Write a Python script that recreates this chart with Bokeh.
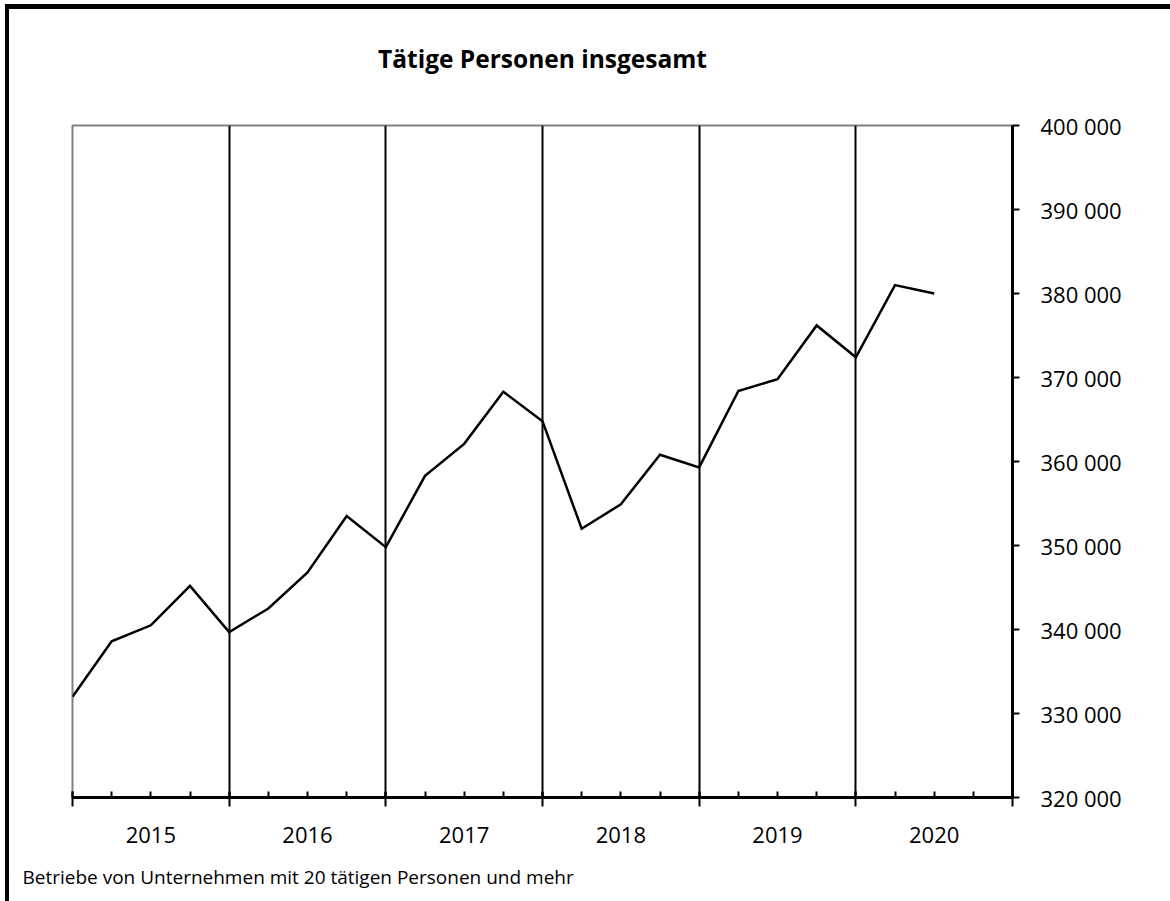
from bokeh.plotting import figure
from bokeh.models import FixedTicker, LinearAxis, Title, Range1d, Grid
from bokeh.embed import file_html
from bokeh.resources import INLINE

# ---- data ----
title_text = "Tätige Personen insgesamt"
footnote = "Betriebe von Unternehmen mit 20 tätigen Personen und mehr"
years = ["2015", "2016", "2017", "2018", "2019", "2020"]
# quarterly values (persons), 2015 Q1 ... 2020 Q3
persons = [332000, 338600, 340500, 345200, 339700, 342500, 346800, 353500,
           349800, 358300, 362100, 368300, 364800, 352000, 354900, 360800,
           359300, 368400, 369800, 376200, 372400, 381000, 380000]
y_ticks = [320000, 330000, 340000, 350000, 360000, 370000, 380000, 390000, 400000]

FONT = "Open Sans"
q = 4  # quarters per year
n_q = len(years) * q
x = list(range(len(persons)))

p = figure(frame_width=940, frame_height=672,
           min_border_left=63, min_border_right=158,
           min_border_top=116, min_border_bottom=104,
           x_range=Range1d(0, n_q), y_range=Range1d(y_ticks[0], y_ticks[-1]),
           x_axis_location=None, y_axis_location=None,
           output_backend="svg", toolbar_location=None,
           background_fill_color="white", border_fill_color="white")

p.styles = {"border-top": "5px solid black", "border-left": "4px solid black",
            "margin-left": "5px", "margin-top": "4px"}

# remove default grids
for g in list(p.grid):
    g.visible = False

p.outline_line_color = "#808080"
p.outline_line_width = 2

# year separators
p.add_layout(Grid(dimension=0, ticker=FixedTicker(ticks=list(range(q, n_q, q))),
                  grid_line_color="black", grid_line_width=2))

# spacer between frame and title
p.add_layout(Title(text=" ", text_font_size="1px", standoff=48,
                   text_color="white"), "above")

# title
p.title.text = title_text
p.title.align = "center"
p.title.vertical_align = "bottom"
p.title.text_font = FONT
p.title.text_font_size = "24.5px"
p.title.text_font_style = "bold"
p.title.text_color = "black"
p.title.standoff = 0

# bottom axis: quarter/year ticks
axA = LinearAxis(ticker=FixedTicker(ticks=list(range(0, n_q + 1, q)),
                                    minor_ticks=list(range(0, n_q + 1))),
                 major_label_overrides={t: "" for t in range(0, n_q + 1, q)},
                 major_label_text_font_size="1px", major_label_standoff=0,
                 major_tick_in=6, major_tick_out=9, minor_tick_in=6, minor_tick_out=0,
                 axis_line_width=3, axis_line_color="black",
                 major_tick_line_width=2, minor_tick_line_width=2,
                 major_tick_line_color="black", minor_tick_line_color="black")
p.add_layout(axA, "below")

# bottom axis: year labels
mids = [i * q + q / 2 for i in range(len(years))]
axB = LinearAxis(ticker=FixedTicker(ticks=mids, minor_ticks=[]),
                 major_label_overrides={m: y for m, y in zip(mids, years)},
                 axis_line_color=None, major_tick_line_color=None,
                 minor_tick_line_color=None, major_tick_in=0, major_tick_out=0,
                 major_label_standoff=20,
                 major_label_text_font=FONT, major_label_text_font_size="22px",
                 major_label_text_color="black")
p.add_layout(axB, "below")

# right axis
axR = LinearAxis(ticker=FixedTicker(ticks=y_ticks, minor_ticks=[]),
                 major_label_overrides={t: f"{t:,}".replace(",", " ") for t in y_ticks},
                 major_tick_in=0, major_tick_out=7, minor_tick_line_color=None,
                 axis_line_width=3, axis_line_color="black",
                 major_tick_line_width=2, major_tick_line_color="black",
                 major_label_standoff=21,
                 major_label_text_font=FONT, major_label_text_font_size="22px",
                 major_label_text_color="black")
p.add_layout(axR, "right")

# footnote
p.add_layout(Title(text=footnote, align="left", offset=-50, standoff=33,
                   text_font=FONT, text_font_size="19px", text_font_style="normal",
                   text_color="black"), "below")

p.line(x=x, y=persons, line_color="black", line_width=2.5, line_join="miter")

open("out.html", "w").write(file_html(p, INLINE))
